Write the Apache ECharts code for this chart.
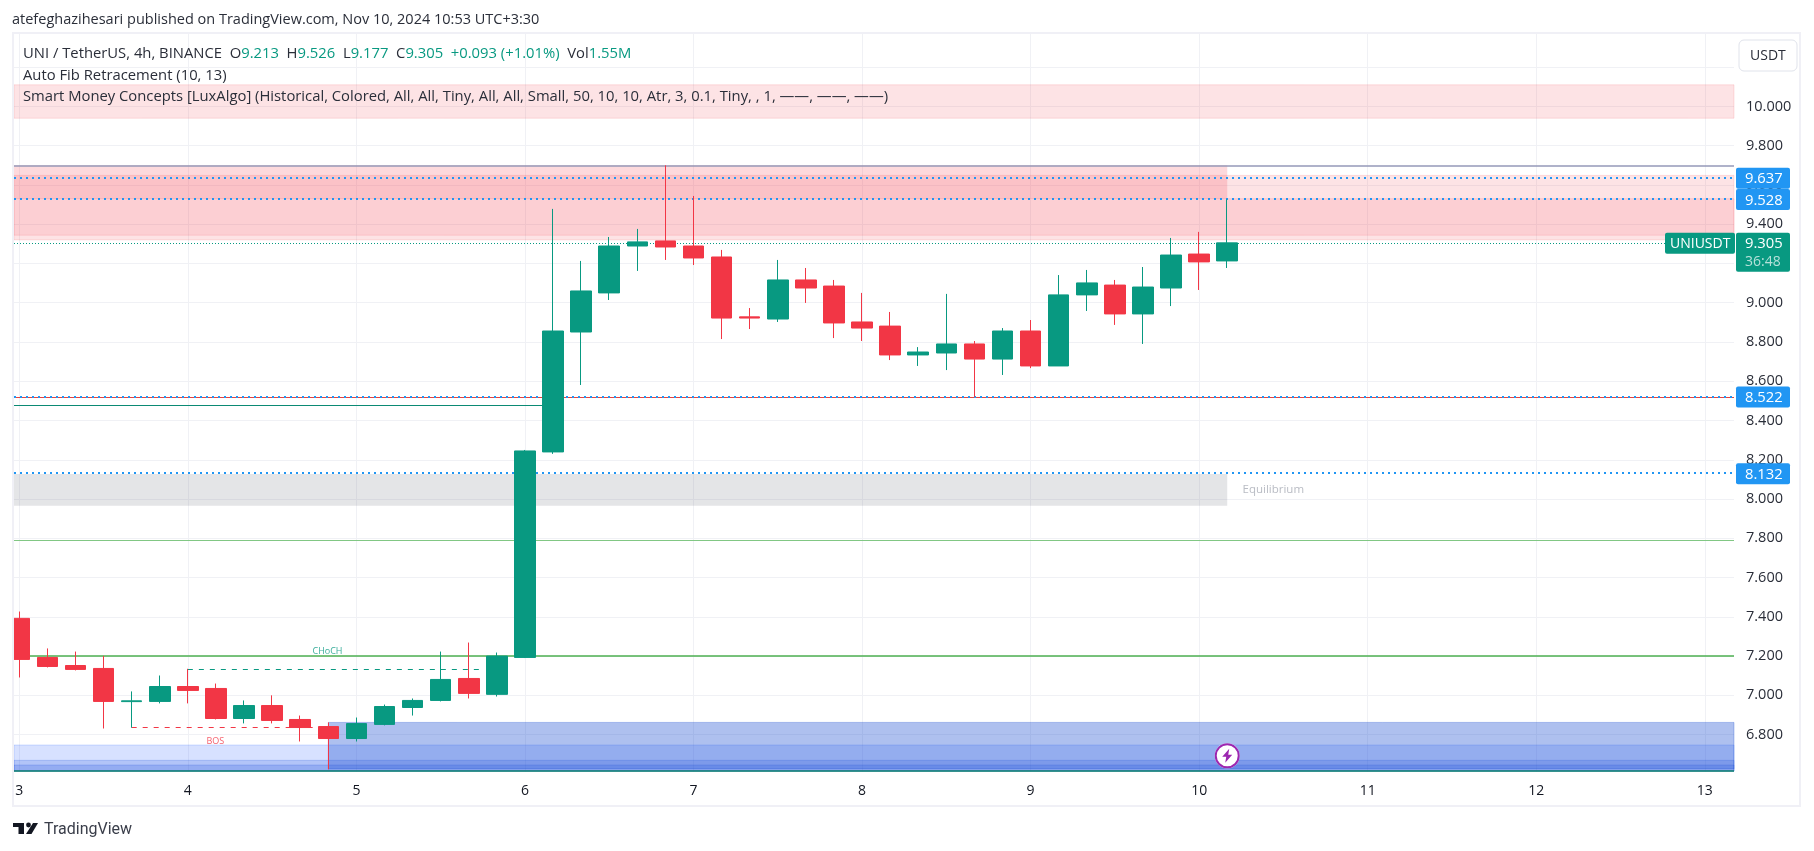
<!DOCTYPE html>
<html>
<head>
<meta charset="utf-8">
<title>UNI / TetherUS</title>
<script src="https://cdn.jsdelivr.net/npm/echarts@6/dist/echarts.min.js"></script>
<style>
    html, body {margin: 0; padding: 0; background: #fff;}
    #chart {width: 1814px; height: 851px;}
</style>
</head>
<body>
<div id="chart"></div>
<script>
// candles, one per 4h, [open, close, low, high]
const candles = [
    [7.392, 7.183, 7.091, 7.427], [7.193, 7.147, 7.142, 7.239], [7.152, 7.132, 7.127, 7.223],
    [7.137, 6.969, 6.831, 7.201], [6.968, 6.972, 6.835, 7.020], [6.969, 7.045, 6.959, 7.101],
    [7.045, 7.025, 6.959, 7.135], [7.035, 6.882, 6.877, 7.060], [6.882, 6.948, 6.857, 6.974],
    [6.948, 6.872, 6.857, 7.000], [6.877, 6.836, 6.765, 6.897], [6.841, 6.780, 6.623, 6.862],
    [6.780, 6.856, 6.765, 6.887], [6.852, 6.943, 6.847, 6.953], [6.938, 6.974, 6.897, 6.984],
    [6.974, 7.081, 6.969, 7.223], [7.086, 7.010, 6.984, 7.269], [7.005, 7.200, 6.994, 7.218],
    [7.193, 8.245, 7.190, 8.250], [8.240, 8.856, 8.230, 9.478], [8.851, 9.060, 8.581, 9.213],
    [9.050, 9.289, 9.014, 9.335], [9.289, 9.310, 9.162, 9.376], [9.315, 9.284, 9.218, 9.700],
    [9.289, 9.228, 9.192, 9.544], [9.233, 8.922, 8.815, 9.269], [8.928, 8.922, 8.866, 8.973],
    [8.917, 9.116, 8.902, 9.218], [9.116, 9.075, 8.999, 9.177], [9.085, 8.897, 8.820, 9.116],
    [8.902, 8.871, 8.805, 9.050], [8.881, 8.734, 8.708, 8.953], [8.734, 8.749, 8.678, 8.774],
    [8.744, 8.790, 8.657, 9.045], [8.790, 8.713, 8.520, 8.805], [8.713, 8.856, 8.632, 8.871],
    [8.856, 8.678, 8.667, 8.912], [8.678, 9.040, 8.678, 9.141], [9.040, 9.101, 8.958, 9.167],
    [9.090, 8.943, 8.887, 9.116], [8.943, 9.080, 8.790, 9.182], [9.075, 9.243, 8.983, 9.330],
    [9.248, 9.208, 9.065, 9.361], [9.213, 9.305, 9.177, 9.526]
];

// x axis counts in candles, a day is 6 of them
const dayLabels = ['3', '4', '5', '6', '7', '8', '9', '10', '11', '12', '13'];
const dayTicks = [0, 6, 12, 18, 24, 30, 36, 42, 48, 54, 60];
const priceTicks = [6.8, 7.0, 7.2, 7.4, 7.6, 7.8, 8.0, 8.2, 8.4, 8.6, 8.8, 9.0, 9.2, 9.4, 9.6, 9.8, 10.0, 10.2];

const xMin = -0.189;
const xMax = 61.04;
const priceMin = 6.611;
const priceMax = 10.369;

const fibLevels = [9.70, 7.79, 7.20, 6.614];
const fibColors = ['#9598b9', '#81c784', '#4caf50', '#0b7f6b'];
const fibWidths = [1.5, 1.2, 1.5, 1.5];
const shortLevel = 8.477;     // teal, stops at the big candle
const shortLevelEnd = 19;
const redLevel = 8.516;
const tagPrices = [9.637, 9.528, 8.522, 8.132];
const lastPrice = 9.305;

// [xFrom, xTo, priceTop, priceBottom]
const redZones = [
    [xMin, 43, 9.70, 9.53],
    [xMin, xMax, 9.649, 9.32],
    [xMin, xMax, 9.53, 9.344],
    [xMin, xMax, 10.11, 9.94]
];
const greyZone = [xMin, 43, 8.127, 7.966];
const blueZones = [
    [xMin, xMax, 6.747, 6.614],
    [xMin, xMax, 6.669, 6.614],
    [xMin, xMax, 6.645, 6.614],
    [11, xMax, 6.862, 6.625]
];

// [xFrom, xTo, price]
const chochLine = [6, 16.47, 7.135];
const bosLine = [4, 10.5, 6.835];
// [x, price, text]
const chochText = [10.97, 7.222, 'CHoCH'];
const bosText = [6.98, 6.763, 'BOS'];
const equilibriumText = [44.64, 8.047, 'Equilibrium'];
const alertMark = [43, 6.692];

const UP = '#089981';
const DOWN = '#f23645';
const BLUE = '#2196f3';
const FONT = '"Open Sans"';

function zoneItem(z, style) {
    return [{coord: [z[0], z[2]], itemStyle: style}, {coord: [z[1], z[3]]}];
}

function levelLine(x0, x1, price, lineStyle) {
    return [{coord: [x0, price], lineStyle: lineStyle}, {coord: [x1, price]}];
}

let redStyles = [
    {color: 'rgba(242,54,69,0.19)'},
    {color: 'rgba(242,54,69,0.14)', borderColor: 'rgba(242,54,69,0.12)', borderWidth: 1},
    {color: 'rgba(242,54,69,0.115)', borderColor: 'rgba(242,54,69,0.12)', borderWidth: 1},
    {color: 'rgba(242,54,69,0.14)', borderColor: 'rgba(242,54,69,0.14)', borderWidth: 1}
];
let blueStyles = [
    {color: 'rgba(41,98,255,0.19)', borderColor: 'rgba(41,98,255,0.2)', borderWidth: 1},
    {color: 'rgba(30,80,220,0.2)', borderColor: 'rgba(30,80,220,0.2)', borderWidth: 1},
    {color: 'rgba(30,80,220,0.2)', borderColor: 'rgba(30,80,220,0.2)', borderWidth: 1},
    {color: 'rgba(30,80,210,0.36)', borderColor: 'rgba(30,80,210,0.3)', borderWidth: 1}
];

let zoneData = redZones.map((z, i) => zoneItem(z, redStyles[i]))
    .concat(blueZones.map((z, i) => zoneItem(z, blueStyles[i])));
zoneData.push(zoneItem(greyZone, {color: 'rgba(120,123,134,0.2)'}));

let lineData = fibLevels.map((p, i) => levelLine(xMin, xMax, p, {color: fibColors[i], width: fibWidths[i], type: 'solid'}));
lineData.push(levelLine(xMin, shortLevelEnd, shortLevel, {color: '#0b8a74', width: 1.2, type: 'solid'}));
lineData.push(levelLine(xMin, xMax, redLevel, {color: '#e5433f', width: 1, type: 'solid'}));
tagPrices.forEach(p => lineData.push(levelLine(xMin, xMax, p, {color: BLUE, width: 2, type: [2, 4]})));
lineData.push(levelLine(chochLine[0], chochLine[1], chochLine[2], {color: UP, width: 1, type: [5, 6]}));
lineData.push(levelLine(bosLine[0], bosLine[1], bosLine[2], {color: DOWN, width: 1, type: [5, 6]}));

let chart = echarts.init(document.getElementById('chart'), null, {renderer: 'canvas'});

chart.setOption({
    animation: false,
    backgroundColor: '#fff',
    grid: {left: 14, right: 80, top: 34, bottom: 79.3},
    xAxis: {
        type: 'value',
        min: xMin,
        max: xMax,
        axisLine: {show: false},
        axisTick: {show: false, customValues: dayTicks},
        axisLabel: {
            customValues: dayTicks,
            margin: 12,
            color: '#131722',
            fontFamily: FONT,
            fontSize: 14,
            formatter: v => dayLabels[dayTicks.indexOf(v)]
        },
        splitLine: {show: true, lineStyle: {color: '#f0f1f5', width: 1}}
    },
    yAxis: {
        type: 'value',
        position: 'right',
        min: priceMin,
        max: priceMax,
        axisLine: {show: false},
        axisTick: {show: false, customValues: priceTicks},
        axisLabel: {
            customValues: priceTicks,
            margin: 12,
            padding: [2, 0, 0, 0],
            color: '#2a2e39',
            fontFamily: FONT,
            fontSize: 14.5,
            formatter: v => v.toFixed(3)
        },
        splitLine: {show: true, lineStyle: {color: '#f0f1f5', width: 1}}
    },
    series: [
        {
            name: 'levels',
            type: 'line',
            z: 1,
            data: [],
            markArea: {silent: true, data: zoneData},
            markLine: {silent: true, symbol: 'none', label: {show: false}, data: lineData}
        },
        {
            name: 'UNIUSDT',
            type: 'candlestick',
            z: 5,
            barWidth: 21,
            data: candles.map((c, i) => [i].concat(c)),
            encode: {x: 0, y: [1, 2, 3, 4]},
            itemStyle: {color: UP, color0: DOWN, borderColor: UP, borderColor0: DOWN, borderWidth: 1}
        },
        {
            name: 'last',
            type: 'line',
            z: 6,
            data: [],
            markLine: {
                silent: true, symbol: 'none', label: {show: false},
                data: [levelLine(xMin, xMax, lastPrice, {color: UP, width: 1, type: [1, 2]})]
            }
        },
        {
            name: 'notes',
            type: 'scatter',
            z: 7,
            symbolSize: 0,
            encode: {x: 0, y: 1},
            label: {show: true, position: 'inside', fontFamily: FONT, formatter: p => p.value[2]},
            data: [
                {value: chochText, label: {color: UP, fontSize: 9}},
                {value: bosText, label: {color: DOWN, fontSize: 9}},
                {value: equilibriumText, label: {color: '#a8abb5', fontSize: 11.5}}
            ]
        }
    ]
});

// tags, frame and header sit on top, placed from the same prices
let priceY = p => chart.convertToPixel({yAxisIndex: 0}, p);
let indexX = x => chart.convertToPixel({xAxisIndex: 0}, x);

function tag(x, y, w, h, fill, r) {
    return {type: 'rect', z: 50, shape: {x: x, y: y, width: w, height: h, r: r || 0}, style: {fill: fill}};
}
function label(x, y, text, fill, font) {
    return {
        type: 'text', z: 51, x: x, y: y,
        style: {text: text, fill: fill, font: font || ('14px ' + FONT), verticalAlign: 'middle'}
    };
}

const legendFont = '14.8px ' + FONT;

let elements = [
    // the first candle is cut by the frame
    {type: 'rect', z: 40, shape: {x: 0, y: 33, width: 13, height: 773}, style: {fill: '#fff'}},
    // frame
    {type: 'rect', z: 41, shape: {x: 13, y: 33, width: 1787, height: 773}, style: {fill: 'none', stroke: '#f0f0f6', lineWidth: 2}},
    // header
    label(12, 20, 'atefeghazihesari published on TradingView.com, Nov 10, 2024 10:53 UTC+3:30', '#2a2e39', '14.5px ' + FONT),
    {
        type: 'text', z: 51, x: 23, y: 54,
        style: {
            text: '{a|UNI / TetherUS, 4h, BINANCE  O}{b|9.213}{a|  H}{b|9.526}{a|  L}{b|9.177}{a|  C}{b|9.305}{b|  +0.093 (+1.01%)}{a|  Vol}{b|1.55M}',
            verticalAlign: 'middle',
            rich: {
                a: {fill: '#2a2e39', font: legendFont},
                b: {fill: UP, font: legendFont}
            }
        }
    },
    label(23, 76, 'Auto Fib Retracement (10, 13)', '#2a2e39', legendFont),
    label(23, 97, 'Smart Money Concepts [LuxAlgo] (Historical, Colored, All, All, Tiny, All, All, Small, 50, 10, 10, Atr, 3, 0.1, Tiny, , 1, \u2014\u2014, \u2014\u2014, \u2014\u2014)', '#2a2e39', legendFont),
    // USDT button
    {type: 'rect', z: 50, shape: {x: 1739, y: 40, width: 58, height: 31, r: 5}, style: {fill: '#fff', stroke: '#e0e3eb', lineWidth: 1}},
    label(1750, 56, 'USDT', '#2a2e39'),
    // logo
    {type: 'polygon', z: 51, shape: {points: [[13, 823], [24, 823], [24, 834], [18.5, 834], [18.5, 827], [13, 827]]}, style: {fill: '#131722'}},
    {type: 'circle', z: 51, shape: {cx: 28.5, cy: 825, r: 2.4}, style: {fill: '#131722'}},
    {type: 'polygon', z: 51, shape: {points: [[33, 823], [38, 823], [31.5, 834], [26, 834]]}, style: {fill: '#131722'}},
    label(44, 830, 'TradingView', '#3a3e4a', '16px Roboto')
];

const tagFont = '14.8px ' + FONT;

tagPrices.forEach(p => {
    let y = priceY(p);
    elements.push(tag(1736, y - 10, 54, 21, BLUE, 2));
    elements.push(label(1745, y + 1.2, p.toFixed(3), '#fff', tagFont));
});

// last price tag, the symbol name on its left and the countdown under it
let lastY = priceY(lastPrice);
elements.push(tag(1736, lastY - 10, 54, 39, UP, 2));
elements.push(label(1745, lastY + 1.2, lastPrice.toFixed(3), '#fff', tagFont));
elements.push(label(1745, lastY + 19, '36:48', 'rgba(255,255,255,0.7)'));
elements.push(tag(1665, lastY - 10, 70, 21, UP, 2));
elements.push(label(1670, lastY + 1.2, 'UNIUSDT', '#fff'));

// alert mark
let ax = indexX(alertMark[0]);
let ay = priceY(alertMark[1]);
elements.push({type: 'circle', z: 50, shape: {cx: ax, cy: ay, r: 12.5}, style: {fill: '#fff'}});
elements.push({type: 'circle', z: 50, shape: {cx: ax, cy: ay, r: 11.5}, style: {fill: '#fff', stroke: '#9c27b0', lineWidth: 2}});
elements.push({
    type: 'polygon', z: 51,
    shape: {points: [[ax + 2, ay - 7], [ax - 5, ay + 1], [ax - 1, ay + 1], [ax - 2, ay + 7], [ax + 5, ay - 1], [ax + 1, ay - 1]]},
    style: {fill: '#9c27b0'}
});

chart.setOption({graphic: {elements: elements}});
</script>
</body>
</html>
